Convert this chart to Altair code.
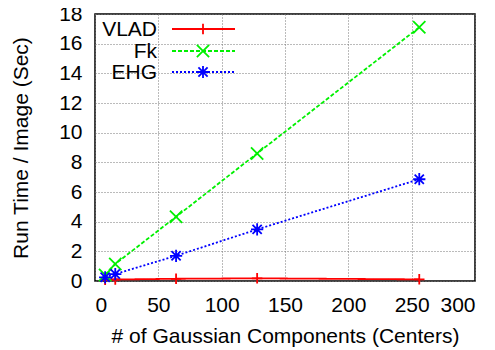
import altair as alt
import pandas as pd

centers = [8, 16, 64, 128, 256]
vlad = [0.08, 0.1, 0.15, 0.18, 0.11]
fk = [0.4, 1.15, 4.33, 8.6, 17.1]
ehg = [0.25, 0.47, 1.7, 3.48, 6.86]

series_names = ["VLAD", "Fk", "EHG"]
series_vals = [vlad, fk, ehg]
colors = ["#ff0000", "#00f000", "#0000ff"]
dashes = [[1, 0], [4, 2], [2, 2]]
shapes = [
    "M-1,0L1,0M0,-1L0,1",
    "M-1,-1L1,1M-1,1L1,-1",
    "M-1,0L1,0M0,-1L0,1M-0.75,-0.75L0.75,0.75M-0.75,0.75L0.75,-0.75",
]
sizes = [110, 150, 150]

FONT = "Liberation Sans"
FS = 21

xscale = alt.Scale(domain=[0, 300], nice=False)
yscale = alt.Scale(domain=[0, 18], nice=False)

layers = []
for i, name in enumerate(series_names):
    df = pd.DataFrame({"x": centers, "y": series_vals[i]})
    base = alt.Chart(df).encode(
        x=alt.X("x:Q", scale=xscale,
                axis=alt.Axis(title="# of Gaussian Components (Centers)",
                              values=[0, 50, 100, 150, 200, 250, 300])),
        y=alt.Y("y:Q", scale=yscale,
                axis=alt.Axis(title="Run Time / Image (Sec)",
                              values=list(range(0, 19, 2)))),
    )
    layers.append(base.mark_line(color=colors[i], strokeWidth=1.8,
                                 strokeDash=dashes[i], clip=True))
    layers.append(base.mark_point(shape=shapes[i], filled=False, color=colors[i],
                                  size=sizes[i], strokeWidth=1.8, opacity=1))

# legend (upper-left, label then sample)
legend_rows = [15, 37, 58]
for i, name in enumerate(series_names):
    ld = pd.DataFrame({"label": [name]})
    y = legend_rows[i]
    layers.append(alt.Chart(ld).mark_text(align="right", baseline="middle",
                                          font=FONT, fontSize=FS, color="black").encode(
        x=alt.value(62), y=alt.value(y + 1), text="label:N"))
    layers.append(alt.Chart(ld).mark_rule(color=colors[i], strokeWidth=1.8,
                                          strokeDash=dashes[i]).encode(
        x=alt.value(77), x2=alt.value(140), y=alt.value(y)))
    layers.append(alt.Chart(ld).mark_point(shape=shapes[i], filled=False, color=colors[i],
                                           size=sizes[i], strokeWidth=1.8, opacity=1).encode(
        x=alt.value(108), y=alt.value(y)))

chart = alt.layer(*layers).properties(
    width=380, height=267,
    autosize=alt.AutoSizeParams(type="none"),
    padding={"left": 87, "top": 6, "right": 12, "bottom": 75},
).configure_view(
    stroke="black", strokeWidth=1.5
).configure_axis(
    labelFont=FONT, titleFont=FONT, labelFontSize=FS, titleFontSize=FS,
    labelColor="black", titleColor="black", titleFontWeight="normal",
    grid=True, gridColor="#777777", gridDash=[1, 2], gridWidth=1,
    ticks=False, domain=False,
).configure_axisX(
    labelPadding=13, titlePadding=10,
).configure_axisY(
    labelPadding=13, titlePadding=27,
)

chart.save("out.html", embed_options={"renderer": "svg", "actions": False})
